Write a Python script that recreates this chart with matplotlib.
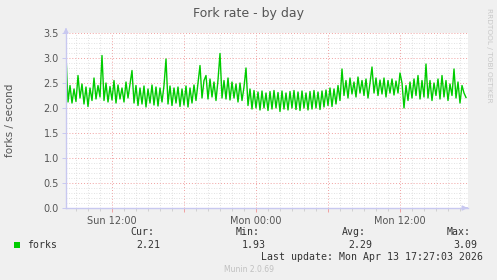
import pandas as pd
import matplotlib
matplotlib.use('Agg')
import matplotlib.pyplot as plt
import matplotlib.dates as mdates
from matplotlib.ticker import MultipleLocator, FuncFormatter

# fork rate, one sample every 10 minutes from Sun 08:10
forks = [
    3.05, 2.12, 2.45, 2.10, 2.38, 2.13, 2.65, 2.20, 2.48, 2.08, 2.42, 2.03, 2.40, 2.15, 2.60, 2.18,
    2.45, 2.22, 3.05, 2.15, 2.50, 2.12, 2.43, 2.16, 2.55, 2.10, 2.46, 2.18, 2.40, 2.12, 2.52, 2.20, 2.48,
    2.75, 2.10, 2.45, 2.05, 2.40, 2.08, 2.44, 2.02, 2.38, 2.10, 2.46, 2.06, 2.42, 2.04, 2.40, 2.12,
    2.45, 2.98, 2.08, 2.44, 2.05, 2.40, 2.10, 2.42, 2.03, 2.38, 2.06, 2.44, 2.02, 2.40, 2.10, 2.46, 2.15, 2.50,
    2.85, 2.20, 2.55, 2.65, 2.18, 2.58, 2.22, 2.52, 2.15, 2.56, 3.09, 2.20, 2.55, 2.18, 2.60, 2.16,
    2.52, 2.20, 2.48, 2.12, 2.50, 2.15, 2.42,
    2.80, 2.05, 2.38, 1.98, 2.35, 2.00, 2.32, 1.96, 2.34, 2.00, 2.30, 1.95, 2.33, 1.98, 2.35, 2.00,
    2.31, 1.93, 2.34, 1.98, 2.30, 1.96, 2.33, 2.00, 2.35, 1.97, 2.32, 1.95, 2.34, 2.00, 2.30, 1.96,
    2.33, 1.98, 2.35, 2.00, 2.32, 1.97, 2.34, 2.02, 2.36, 2.05, 2.40, 2.03, 2.38, 2.08,
    2.45, 2.15, 2.78, 2.25, 2.55, 2.20, 2.60, 2.28, 2.52, 2.22, 2.62, 2.30, 2.55, 2.25, 2.58, 2.20,
    2.50, 2.82, 2.30, 2.60, 2.25, 2.56, 2.28, 2.60, 2.22, 2.55, 2.30, 2.58, 2.26, 2.54, 2.30, 2.70, 2.50,
    2.00, 2.45, 2.15, 2.52, 2.20, 2.58, 2.25, 2.65, 2.18, 2.55, 2.22, 2.88, 2.20, 2.55, 2.15, 2.50,
    2.25, 2.58, 2.18, 2.65, 2.22, 2.55, 2.15, 2.48, 2.25, 2.78, 2.20, 2.52, 2.10, 2.45, 2.30, 2.21,
]
times = pd.date_range('2026-04-12 08:10', periods=len(forks), freq='10min')

stat_names = ['Cur:', 'Min:', 'Avg:', 'Max:']
stat_values = ['2.21', '1.93', '2.29', '3.09']
stat_right = [160, 266, 372, 477]   # right edge of each column, px

W, H = 497, 280
bg = '#f0f0f0'
txt = '#555555'
axis_col = '#c8c8f0'

fig = plt.figure(figsize=(W / 100, H / 100), dpi=100, facecolor=bg)
ax = fig.add_axes([66 / W, 72 / H, 402 / W, 175 / H])
ax.set_facecolor('white')

ax.plot(times, forks, color='#00cc00', lw=1.0)

ax.set_xlim(pd.Timestamp('2026-04-12 08:10'), pd.Timestamp('2026-04-13 17:40'))
ax.set_ylim(0, 3.5)

ax.xaxis.set_major_locator(mdates.HourLocator(byhour=[0, 6, 12, 18]))
ax.xaxis.set_minor_locator(mdates.HourLocator())
ax.xaxis.set_major_formatter(FuncFormatter(
    lambda v, p: mdates.num2date(v).strftime('%a %H:%M') if mdates.num2date(v).hour % 12 == 0 else ''))
ax.yaxis.set_major_locator(MultipleLocator(0.5))
ax.yaxis.set_minor_locator(MultipleLocator(0.1))
ax.yaxis.set_major_formatter(FuncFormatter(lambda v, p: '%.1f' % v))

ax.grid(which='minor', color='#d8d8d8', linestyle=(0, (1, 2)), lw=0.6)
ax.grid(which='major', color='#f0a0a0', linestyle=(0, (1, 2)), lw=0.7)
ax.set_axisbelow(True)

for s in ['top', 'right']:
    ax.spines[s].set_visible(False)
for s in ['left', 'bottom']:
    ax.spines[s].set_color(axis_col)
    ax.spines[s].set_linewidth(1.0)

ax.tick_params(axis='both', which='major', labelsize=7, labelcolor=txt, length=3, width=0.7, pad=2)
ax.tick_params(axis='x', which='major', color='#f0a0a0', pad=3)
ax.tick_params(axis='y', which='major', color=axis_col)
ax.tick_params(which='minor', length=2, color='#cccccc', width=0.6)
ax.tick_params(axis='y', which='minor', length=0)

# axis arrows
ax.annotate('', xy=(1.006, 0), xytext=(0.99, 0), xycoords='axes fraction',
            arrowprops=dict(arrowstyle='-|>', color=axis_col, lw=1, mutation_scale=7),
            annotation_clip=False)
ax.annotate('', xy=(0, 1.03), xytext=(0, 1.0), xycoords='axes fraction',
            arrowprops=dict(arrowstyle='-|>', color=axis_col, lw=1, mutation_scale=7),
            annotation_clip=False)


def px(x, y):
    return x / W, 1 - y / H


fig.text(*px(249, 13), 'Fork rate - by day', ha='center', va='center', fontsize=9, color=txt)
fig.text(*px(10, 120), 'forks / second', ha='center', va='center', rotation=90,
         fontsize=7.5, color=txt)
fig.text(*px(489, 8), 'RRDTOOL / TOBI OETIKER', ha='center', va='top', rotation=270,
         fontsize=5.3, color='#c8c8c8')

mono = 'DejaVu Sans Mono'
fig.patches.append(plt.Rectangle(px(14, 248), 6 / W, 6 / H, transform=fig.transFigure,
                                 facecolor='#00cc00', edgecolor='none'))
fig.text(*px(27, 245), 'forks', ha='left', va='center', fontsize=7.1, family=mono, color='#333333')
for name, val, r in zip(stat_names, stat_values, stat_right):
    fig.text(*px(r - 6, 232), name, ha='right', va='center', fontsize=7.1, family=mono, color='#333333')
    fig.text(*px(r, 245), val, ha='right', va='center', fontsize=7.1, family=mono, color='#333333')
fig.text(*px(483, 257), 'Last update: Mon Apr 13 17:27:03 2026', ha='right', va='center',
         fontsize=7.1, family=mono, color='#333333')
fig.text(*px(249, 269), 'Munin 2.0.69', ha='center', va='center', fontsize=5.5, color='#c0c0c0')

fig.savefig('out.png', dpi=100, facecolor=bg)
